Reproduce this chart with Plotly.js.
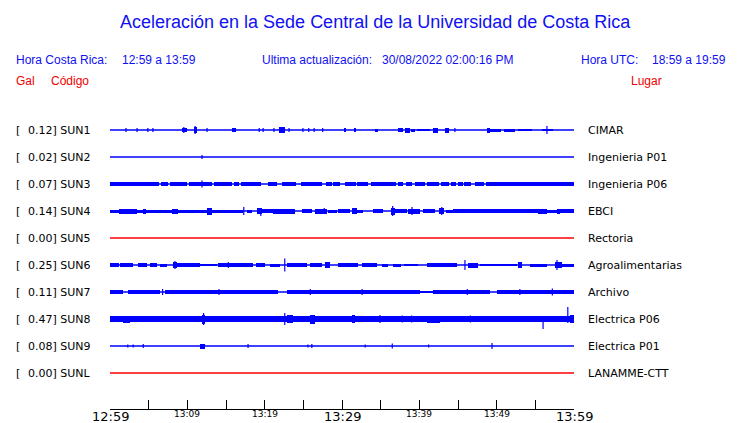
<!DOCTYPE html>
<html><head><meta charset="utf-8">
<script src="https://cdn.plot.ly/plotly-3.0.1.min.js"></script>
<style>html,body{margin:0;padding:0;background:#fff}#chart{width:740px;height:423px}</style>
</head><body><div id="chart"></div>
<script>
// ---- data ----
const stations = ['SUN1','SUN2','SUN3','SUN4','SUN5','SUN6','SUN7','SUN8','SUN9','SUNL'];
const galValues = ['0.12','0.02','0.07','0.14','0.00','0.25','0.11','0.47','0.08','0.00'];
const places = ['CIMAR','Ingenieria P01','Ingenieria P06','EBCI','Rectoria','Agroalimentarias','Archivo','Electrica P06','Electrica P01','LANAMME-CTT'];
const traceColors = ['blue','blue','blue','blue','red','blue','blue','blue','blue','red'];
const tickMinutes = [0,10,20,30,40,50,60];
const tickLabels = ['12:59','13:09','13:19','13:29','13:39','13:49','13:59'];
const tickBig = [true,false,false,true,false,false,true];

// segments: [start minute, end minute, half amplitude]
const SUN1_seg = [[9.3,9.96,2],[10.9,11.25,3],[15.8,16.3,2],[21.85,22.6,3],[30.3,30.5,2],[31.55,31.8,2],[34.3,34.65,1.5],[37.2,37.9,2],[38.1,38.8,2.5],[38.9,39.4,1.5],[39.7,41.4,0.8],[41.8,42.4,2.5],[43.3,43.8,2.5],[48.75,49.1,2.5],[49.1,50.6,1.5],[50.9,52.4,1.5],[52.7,54.6,1.2],[55.9,57.3,0.8]];
const SUN2_seg = [];
const SUN3_seg = [[0,6.4,2],[6.6,7.5,2],[7.7,10.0,2],[10.2,13.2,2],[13.4,15.8,2],[16.0,16.7,2],[16.9,19.5,2],[20.4,21.6,2],[22.3,24.1,2],[24.7,27.4,2],[27.9,28.7,2],[28.9,29.8,2],[30.4,31.8,2],[32.0,33.3,2],[33.7,37.0,2],[37.3,37.9,2],[38.3,39.1,2],[39.4,40.7,2],[41.0,42.6,2],[42.8,43.8,2],[44.1,44.8,2],[45.0,45.6,2],[45.8,46.7,2],[47.2,48.4,2],[48.6,60,2]];
const SUN4_seg = [[0,1.2,1.5],[1.2,3.5,2.5],[3.5,4.3,1.5],[4.3,4.6,2.5],[4.6,8.0,1.5],[8.0,8.8,2.5],[8.8,12.6,1.5],[12.6,13.2,3.5],[13.2,17.2,1.5],[17.7,18.4,1.5],[19.0,19.6,3],[19.7,21.1,2],[21.1,23.9,2.5],[24.8,26.1,2],[26.5,28.0,2.5],[28.2,29.3,1.5],[29.5,31.0,2],[31.3,31.9,3],[31.9,32.7,1.5],[34.0,35.3,2],[36.3,36.9,3.5],[36.9,38.4,2],[38.5,40.1,2.5],[40.5,42.0,2],[42.6,43.2,3],[43.5,44.4,1.5],[44.4,55.3,2],[55.3,56.5,2.5],[56.5,57.8,1.5],[57.8,58.2,2.5],[58.2,60,2]];
const SUN5_seg = [];
const SUN6_seg = [[0,1.2,2],[1.3,3.0,2],[3.6,4.8,2],[5.2,6.1,2],[6.5,7.4,1.5],[8.1,8.7,3],[8.7,11.6,2],[11.6,13.8,0.8],[14.0,16.8,2],[16.8,18.5,2],[18.9,20.0,2],[20.7,22.0,1.5],[22.9,25.5,2],[25.9,27.4,2],[27.8,28.4,3],[29.5,32.1,2],[32.6,34.5,2],[35.2,36.0,1.5],[36.6,37.6,1.5],[38.0,39.8,1.2],[41.0,44.9,2],[46.3,47.6,2.5],[47.8,52.6,1],[52.8,53.3,3],[54.3,56.5,1.5],[57.5,58.5,3],[58.5,60,1.5]];
const SUN7_seg = [[0,1.7,2],[2.3,6.5,2],[7.1,21.7,2],[22.9,40.1,2],[40.1,41.8,1],[41.8,49.1,2],[50.0,60,2]];
const SUN8_seg = [[0,1.7,2.7],[1.7,2.6,3.5],[2.6,11.9,2.7],[11.9,12.3,4.5],[12.3,22.9,2.7],[22.9,23.7,4],[23.7,25.9,2.7],[25.9,26.5,4.5],[26.5,31.3,2.7],[31.3,31.7,4],[31.7,41.0,2.7],[41.0,42.7,3.5],[42.7,59.5,2.7],[59.5,60,4]];
const SUN9_seg = [[11.6,12.3,2.5]];
const SUNL_seg = [];

// spikes: [minute, up amplitude, down amplitude]
const SUN1_spk = [[2.07,2,2],[3.5,2,2],[4.9,2,2],[5.55,2,2],[9.55,3,3],[11.0,4,4],[12.55,2,2],[19.3,2,2],[19.8,2,2],[21.2,2,2],[23.15,2,2],[24.95,2,2],[25.7,2,2],[26.4,2,2],[27.5,2,2],[44.6,2,2],[56.5,4,4]];
const SUN2_spk = [[11.9,2,2]];
const SUN3_spk = [[11.9,3.5,3.5]];
const SUN4_spk = [[17.3,4,4],[19.5,3,5],[27.7,3,3],[36.55,5,5],[39.05,4,4],[42.9,4,4]];
const SUN5_spk = [];
const SUN6_spk = [[8.4,4,4],[15.3,3,3],[22.6,6.5,6.5],[45.9,5,5],[57.8,5,5]];
const SUN7_spk = [[6.8,3,3],[14.1,3,3],[25.9,3,3],[32.6,3,3],[46.2,3,3],[53.0,3,3],[57.2,3.5,3.5]];
const SUN8_spk = [[12.1,6,6],[22.6,6,6],[34.9,4,4],[37.8,3.5,3.5],[39.0,3.5,3.5],[46.6,3.5,3.5],[56.0,1,10],[59.2,12,4]];
const SUN9_spk = [[2.3,1.5,1.5],[3.0,1.5,1.5],[4.3,2,2],[17.85,2,2],[25.6,1.5,1.5],[26.1,2,2],[33.0,1.5,1.5],[36.5,2.5,2.5],[41.2,1.5,1.5],[49.4,3,3]];
const SUNL_spk = [];

const segs = [SUN1_seg,SUN2_seg,SUN3_seg,SUN4_seg,SUN5_seg,SUN6_seg,SUN7_seg,SUN8_seg,SUN9_seg,SUNL_seg];
const spks = [SUN1_spk,SUN2_spk,SUN3_spk,SUN4_spk,SUN5_spk,SUN6_spk,SUN7_spk,SUN8_spk,SUN9_spk,SUNL_spk];

// ---- build ----
const ROW = 27;
const traces = [];
stations.forEach((s, i) => {
  const y0 = -ROW * i;
  const c = traceColors[i];
  traces.push({type:'scatter', mode:'lines', x:[0,60], y:[y0,y0], line:{color:c, width:1.3}, hoverinfo:'skip'});
  const sg = segs[i];
  if (sg.length) {
    traces.push({type:'bar', x: sg.map(d => (d[0]+d[1])/2), width: sg.map(d => d[1]-d[0]),
      base: sg.map(d => y0 - d[2]), y: sg.map(d => 2*d[2]),
      marker:{color:c, line:{width:0}}, hoverinfo:'skip'});
  }
  const sp = spks[i];
  if (sp.length) {
    const xs = [], ys = [];
    sp.forEach(d => { xs.push(d[0], d[0], null); ys.push(y0 + d[1], y0 - d[2], null); });
    traces.push({type:'scatter', mode:'lines', x:xs, y:ys, line:{color:c, width:1.2}, connectgaps:false, hoverinfo:'skip'});
  }
});

const L = 110, R = 574, T = 103, B = 409;
const px = x => (x - L) / (R - L);
const py = y => (B - y) / (B - T);
const ann = [];
function txt(text, x, y, size, color, family, anchor) {
  ann.push({text, xref:'paper', yref:'paper', x:px(x), y:py(y), xanchor:anchor||'left', yanchor:'middle',
    showarrow:false, font:{size, color, family}, borderpad:0});
}
const SANS = 'Liberation Sans, Arial, sans-serif';
const DJ = 'DejaVu Sans, sans-serif';
txt('Aceleración en la Sede Central de la Universidad de Costa Rica', 375, 22, 18, '#1010f0', SANS, 'center');
txt('Hora Costa Rica:', 15, 60, 12, '#1010f0', SANS);
txt('12:59 a 13:59', 121, 60, 12, '#1010f0', SANS);
txt('Ultima actualización:', 261, 60, 12, '#1010f0', SANS);
txt('30/08/2022 02:00:16 PM', 381, 60, 12, '#1010f0', SANS);
txt('Hora UTC:', 580, 60, 12, '#1010f0', SANS);
txt('18:59 a 19:59', 651, 60, 12, '#1010f0', SANS);
txt('Gal', 15, 81, 12, '#f00000', SANS);
txt('Código', 50, 81, 12, '#f00000', SANS);
txt('Lugar', 630, 81, 12, '#f00000', SANS);
stations.forEach((s, i) => {
  const yy = 130 + ROW * i;
  txt('[', 15, yy, 11, '#000', DJ);
  txt(galValues[i] + '] ' + s, 27, yy, 11, '#000', DJ);
  txt(places[i], 587, yy, 11, '#000', DJ);
});
tickMinutes.forEach((m, k) => {
  ann.push({text: tickLabels[k], xref:'x', yref:'paper', x:m, y:py(tickBig[k] ? 416 : 414), xanchor:'center', yanchor:'middle',
    showarrow:false, borderpad:0, font:{size: tickBig[k] ? 13 : 9, color:'#000', family:DJ}});
});

const layout = {
  width:740, height:423, paper_bgcolor:'#fff', plot_bgcolor:'#fff',
  margin:{l:L, r:740-R, t:T, b:423-B, pad:0},
  showlegend:false, barmode:'overlay', bargap:0,
  xaxis:{range:[0,60], showgrid:false, zeroline:false, showline:true, linecolor:'#000', linewidth:1,
    ticks:'inside', ticklen:9, tickwidth:1, tickcolor:'#000', tickvals:[0,5,10,15,20,25,30,35,40,45,50,55,60],
    showticklabels:false, fixedrange:true},
  yaxis:{range:[-279,27], visible:false, fixedrange:true},
  annotations: ann
};
Plotly.newPlot('chart', traces, layout, {staticPlot:true, displayModeBar:false});
</script></body></html>
